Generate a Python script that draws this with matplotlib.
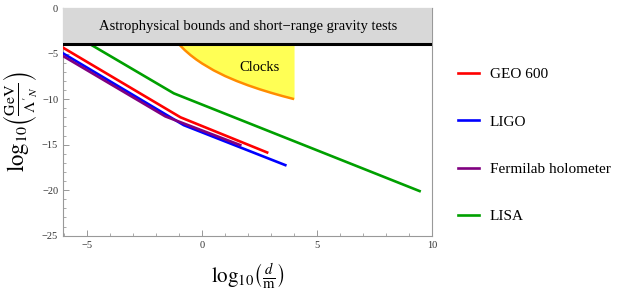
import matplotlib
matplotlib.use("Agg")
import matplotlib.pyplot as plt
from matplotlib.ticker import MultipleLocator, FuncFormatter

plt.rcParams['font.family'] = ['Liberation Serif', 'DejaVu Serif']
plt.rcParams['mathtext.fontset'] = 'stix'

# Data (log10 d/m, log10 GeV/Lambda'_N)
geo_x = [-6.3, -0.94, 2.83]
geo_y = [-3.98, -12.0, -15.86]
ligo_x = [-6.3, -0.8, 3.62]
ligo_y = [-4.6, -12.86, -17.25]
ferm_x = [-6.3, -1.6, 1.66]
ferm_y = [-4.9, -11.9, -15.05]
lisa_x = [-6.0, -1.23, 9.46]
lisa_y = [-2.3, -9.37, -20.1]
clock_x = [-1.0, -0.75, -0.5, -0.25, 0.0, 0.5, 1.0, 1.5, 2.0, 2.5, 3.0, 3.5, 4.0]
clock_y = [-4.0, -4.63, -5.18, -5.66, -6.09, -6.84, -7.47, -8.01, -8.49, -8.92,
           -9.31, -9.67, -10.0]
band_top, band_bottom = 0.0, -4.0

fig = plt.figure(figsize=(6.25, 2.91), dpi=100)
ax = fig.add_axes([0.1008, 0.19, 0.5904, 0.7825])

ax.fill_between(clock_x, clock_y, band_bottom, color='#FFFF55', zorder=1, linewidth=0)
ax.plot(clock_x, clock_y, color='#FF8C00', lw=1.8, zorder=2, solid_capstyle='butt')

lw = 1.9
ax.plot(geo_x, geo_y, color='#FF0000', lw=lw, label='GEO 600', zorder=3)
ax.plot(ligo_x, ligo_y, color='#0000FF', lw=lw, label='LIGO', zorder=3)
ax.plot(ferm_x, ferm_y, color='#800080', lw=lw, label='Fermilab holometer', zorder=3)
ax.plot(lisa_x, lisa_y, color='#00A000', lw=lw, label='LISA', zorder=3)

ax.axhspan(band_bottom, band_top, color='#D8D8D8', zorder=4, linewidth=0)
ax.axhline(band_bottom, color='black', lw=2.2, zorder=5)

ax.text(2.0, -2.0, 'Astrophysical bounds and short\u2212range gravity tests',
        ha='center', va='center', fontsize=10.5, zorder=6)
ax.text(2.5, -6.55, 'Clocks', ha='center', va='center', fontsize=10.5, zorder=6)

ax.set_xlim(-6.05, 10)
ax.set_ylim(-25, 0)
ax.xaxis.set_major_locator(MultipleLocator(5))
ax.xaxis.set_minor_locator(MultipleLocator(1))
ax.yaxis.set_major_locator(MultipleLocator(5))
ax.yaxis.set_minor_locator(MultipleLocator(1))
fmt = FuncFormatter(lambda v, p: ('%d' % v).replace('-', '\u2212'))
ax.xaxis.set_major_formatter(fmt)
ax.yaxis.set_major_formatter(fmt)
ax.tick_params(which='both', direction='in', colors='#888888', labelcolor='#333333',
               labelsize=7.5)
ax.tick_params(which='major', length=4, width=0.6)
ax.tick_params(which='minor', length=2, width=0.5)
for s in ['left', 'bottom', 'top', 'right']:
    ax.spines[s].set_color('#999999')

ax.set_xlabel(r'$\log_{10}\!\left(\frac{d}{\mathrm{m}}\right)$', fontsize=15, labelpad=8)
ax.set_ylabel(r"$\log_{10}\!\left(\frac{\mathrm{GeV}}{\Lambda'_{N}}\right)$", fontsize=16.5, labelpad=1)

leg = fig.legend(loc='upper left', bbox_to_anchor=(0.71, 0.815), frameon=False,
                 fontsize=11, handlelength=1.4, labelspacing=2.2, handletextpad=0.7)

fig.savefig('out.png', dpi=100)
